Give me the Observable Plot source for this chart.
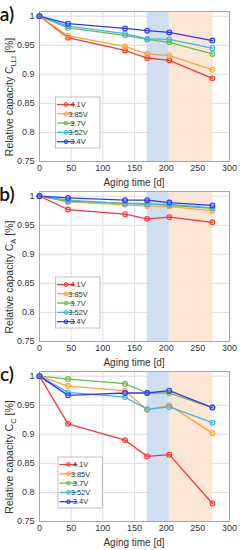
<!DOCTYPE html>
<html><head><meta charset="utf-8">
<script src="https://cdn.jsdelivr.net/npm/d3@7"></script>
<script src="https://cdn.jsdelivr.net/npm/@observablehq/plot@0.6"></script>
<style>
body{margin:0;background:#fff;}
#wrap{position:relative;width:240px;height:550px;overflow:hidden;font-family:"Liberation Sans",Arial,sans-serif;}
.panel{position:absolute;left:0;width:240px;}
</style></head><body><div id="wrap"></div>
<script>
// ---- data ----
const days = [0, 45, 135, 170, 205, 273];
const voltages = ["4.1V", "3.85V", "3.7V", "3.52V", "3.4V"];
const colors = ["#ff3535", "#ffa335", "#6abd48", "#38b6f2", "#3434ff"];
const panelNames = ["a)", "b)", "c)"];
const panelSubs = ["LLI", "A", "C"];
// one row per voltage (same order as voltages)
const capLLI = [
  [1, 0.963, 0.941, 0.928, 0.924, 0.893],
  [1, 0.966, 0.948, 0.935, 0.932, 0.908],
  [1, 0.980, 0.967, 0.960, 0.955, 0.935],
  [1, 0.983, 0.970, 0.961, 0.960, 0.945],
  [1, 0.987, 0.979, 0.975, 0.972, 0.958]
];
const capA = [
  [1, 0.977, 0.969, 0.961, 0.964, 0.955],
  [1, 0.990, 0.985, 0.983, 0.982, 0.975],
  [1, 0.991, 0.988, 0.987, 0.984, 0.979],
  [1, 0.993, 0.987, 0.986, 0.986, 0.980],
  [1, 0.997, 0.993, 0.993, 0.989, 0.984]
];
const capC = [
  [1, 0.918, 0.890, 0.862, 0.865, 0.781],
  [1, 0.983, 0.975, 0.942, 0.950, 0.902],
  [1, 0.995, 0.987, 0.971, 0.971, 0.946],
  [1, 0.972, 0.964, 0.943, 0.947, 0.920],
  [1, 0.967, 0.971, 0.971, 0.975, 0.946]
];
const panelData = [capLLI, capA, capC];
const xTicks = [0, 50, 100, 150, 200, 250, 300];
const yTicks = [0.75, 0.8, 0.85, 0.9, 0.95, 1];
const phaseStart = [170, 205];
const phaseEnd = [205, 274];
const phaseColors = ["#cadcf0", "#fce3d2"];

// ---- layout ----
const panelTops = [0, 180, 360];
const W = 240, H = 190;

const wrap = document.getElementById("wrap");

panelData.forEach((rows, p) => {
  const table = [];
  rows.forEach((vals, s) => vals.forEach((v, i) => table.push({day: days[i], cap: v, volt: voltages[s]})));
  const phases = phaseStart.map((d, i) => ({x1: d, x2: phaseEnd[i], c: phaseColors[i]}));

  const svg = Plot.plot({
    width: W, height: H,
    marginLeft: 39, marginRight: 11, marginTop: 11, marginBottom: 29,
    style: {fontSize: "9px", fontFamily: "Liberation Sans, Arial, sans-serif", color: "#333", background: "transparent", overflow: "visible"},
    x: {domain: [0, 300]},
    y: {domain: [0.75, 1.008]},
    color: {domain: voltages, range: colors},
    marks: [
      Plot.gridX(xTicks, {stroke: "#dedede", strokeOpacity: 1}),
      Plot.gridY(yTicks, {stroke: "#dedede", strokeOpacity: 1}),
      Plot.rect(phases, {x1: "x1", x2: "x2", y1: 0.75, y2: 1.008, fill: "c", fillOpacity: 0.9}),
      Plot.frame({stroke: "#a8a8a8"}),
      Plot.axisX(xTicks, {tickSize: 0, tickPadding: 3.5, label: null, fill: "#333", fontSize: 9}),
      Plot.axisY(yTicks, {tickSize: 0, tickPadding: 5, label: null, fill: "#333", fontSize: 9, tickFormat: d => String(+d.toFixed(2))}),
      Plot.line(table, {x: "day", y: "cap", z: "volt", stroke: "volt", strokeWidth: 1.3}),
      Plot.dot(table, {x: "day", y: "cap", stroke: "volt", r: 2.4, strokeWidth: 1.1, fill: "volt", fillOpacity: 0.25})
    ]
  });

  const div = document.createElement("div");
  div.className = "panel";
  div.style.top = panelTops[p] + "px";
  div.appendChild(svg);
  wrap.appendChild(div);

  const g = d3.select(svg);
  // panel label
  g.append("text").attr("x", 7).attr("y", 21).attr("font-size", 19).attr("font-weight", 600)
    .attr("font-family", "Lato, 'Open Sans', sans-serif").attr("fill", "#111").text(panelNames[p]);
  // y label with subscript
  const yl = g.append("text").attr("transform", `translate(13,${97}) rotate(-90)`)
    .attr("text-anchor", "middle").attr("font-size", 10.5).attr("fill", "#333");
  yl.append("tspan").text("Relative capacity C");
  yl.append("tspan").attr("font-size", 7.5).attr("dy", 2.5).text(panelSubs[p]);
  yl.append("tspan").attr("dy", -2.5).text(" [%]");
  // x label
  g.append("text").attr("x", 134).attr("y", 185.5).attr("text-anchor", "middle")
    .attr("font-size", 10).attr("fill", "#333").text("Aging time [d]");

  // legend
  const lx = p === 2 ? 58 : 55.5, ly = 97;
  const lg = g.append("g");
  lg.append("rect").attr("x", lx).attr("y", ly).attr("width", 44.5).attr("height", 51)
    .attr("fill", "#fff").attr("stroke", "#b0b0b0").attr("stroke-width", 0.8);
  voltages.forEach((v, i) => {
    const cy = ly + 7.5 + i * 9.3;
    lg.append("line").attr("x1", lx + 1.5).attr("x2", lx + 19.5).attr("y1", cy).attr("y2", cy)
      .attr("stroke", colors[i]).attr("stroke-width", 1.3);
    lg.append("circle").attr("cx", lx + 10.5).attr("cy", cy).attr("r", 1.9)
      .attr("stroke", colors[i]).attr("fill", colors[i]).attr("fill-opacity", 0.3).attr("stroke-width", 1);
    lg.append("text").attr("x", lx + 22.5).attr("y", cy + 2.7).attr("font-size", 7.5).attr("fill", "#333").text(v);
  });
});
</script>
</body></html>
